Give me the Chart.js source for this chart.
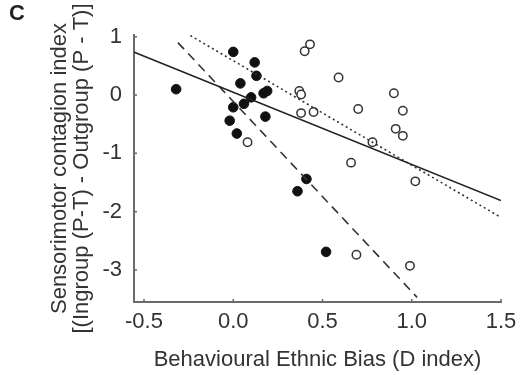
<!DOCTYPE html>
<html>
<head>
<meta charset="utf-8">
<script src="https://cdn.jsdelivr.net/npm/chart.js@4"></script>
<style>
    body { margin: 0; background: #fff; }
    #wrap { position: relative; width: 524px; height: 375px; }
    #panel { position: absolute; left: 9px; top: 0px; font: bold 22px "Liberation Sans", Arial, sans-serif; color: #222; }
</style>
</head>
<body>
<div id="wrap">
    <canvas id="chart-bias" width="524" height="375"></canvas>
    <div id="panel">C</div>
</div>
<script>
// Ingroup-biased participants (filled dots)
var filledX = [-0.32, 0.00, 0.12, 0.13, 0.04, 0.17, 0.19, 0.10, 0.06, 0.00, 0.18, -0.02, 0.02, 0.41, 0.36, 0.52];
var filledY = [0.10, 0.74, 0.56, 0.33, 0.20, 0.03, 0.07, -0.04, -0.15, -0.21, -0.37, -0.44, -0.66, -1.44, -1.65, -2.69];

// Other participants (open circles)
var openX = [0.40, 0.43, 0.59, 0.37, 0.38, 0.38, 0.45, 0.90, 0.95, 0.70, 0.91, 0.95, 0.78, 0.66, 1.02, 0.69, 0.99, 0.08];
var openY = [0.75, 0.87, 0.30, 0.07, 0.01, -0.31, -0.29, 0.03, -0.27, -0.24, -0.58, -0.70, -0.81, -1.16, -1.48, -2.74, -2.93, -0.81];

// Regression lines (end points)
var solidX = [-0.56, 1.50];
var solidY = [0.74, -1.81];
var dottedX = [-0.24, 1.50];
var dottedY = [1.02, -2.10];
var dashedX = [-0.31, 1.03];
var dashedY = [0.90, -3.47];

// Axis ticks
var xTicks = [-0.5, 0.0, 0.5, 1.0, 1.5];
var yTicks = [-3, -2, -1, 0, 1];

function toPoints(xs, ys) {
    return xs.map((x, i) => ({ x: x, y: ys[i] }));
}

var textColor = '#333';
var axisColor = '#6b6b6b';
var fontFamily = '"Liberation Sans", Arial, sans-serif';

// Small inward tick marks
var innerTicks = {
    id: 'innerTicks',
    afterDraw: function (chart) {
        var ctx = chart.ctx;
        var area = chart.chartArea;
        var xs = chart.scales.x;
        var ys = chart.scales.y;
        ctx.save();
        ctx.strokeStyle = axisColor;
        ctx.lineWidth = 1.5;
        ctx.beginPath();
        xTicks.forEach(function (v) {
            var px = xs.getPixelForValue(v);
            ctx.moveTo(px, area.bottom);
            ctx.lineTo(px, area.bottom - 3);
        });
        yTicks.forEach(function (v) {
            var py = ys.getPixelForValue(v);
            ctx.moveTo(area.left, py);
            ctx.lineTo(area.left + 3, py);
        });
        ctx.stroke();
        ctx.restore();
    }
};

var scatterData = {
    datasets: [
        {
            label: 'Solid fit',
            data: toPoints(solidX, solidY),
            showLine: true,
            borderColor: '#222',
            borderWidth: 1.6,
            pointRadius: 0,
        },
        {
            label: 'Dotted fit',
            data: toPoints(dottedX, dottedY),
            showLine: true,
            borderColor: '#333',
            borderWidth: 1.6,
            borderDash: [2, 3],
            pointRadius: 0,
        },
        {
            label: 'Dashed fit',
            data: toPoints(dashedX, dashedY),
            showLine: true,
            borderColor: '#333',
            borderWidth: 1.6,
            borderDash: [9, 6],
            pointRadius: 0,
        },
        {
            label: 'Filled',
            data: toPoints(filledX, filledY),
            pointRadius: 4.8,
            pointBackgroundColor: '#111',
            pointBorderColor: '#111',
            pointBorderWidth: 1,
        },
        {
            label: 'Open',
            data: toPoints(openX, openY),
            pointRadius: 4.2,
            pointBackgroundColor: '#fff',
            pointBorderColor: '#333',
            pointBorderWidth: 1.5,
        }
    ]
};

var scatterOptions = {
    responsive: false,
    animation: false,
    layout: { padding: { top: 35, right: 23, left: 0, bottom: 0 } },
    plugins: {
        legend: { display: false },
        tooltip: { enabled: false },
    },
    scales: {
        x: {
            type: 'linear',
            min: -0.556,
            max: 1.5,
            afterBuildTicks: function (s) { s.ticks = xTicks.map(v => ({ value: v })); },
            afterFit: function (s) { s.height = 73; },
            grid: { display: false, drawTicks: false },
            border: { display: true, color: axisColor, width: 2 },
            ticks: {
                padding: 7,
                color: textColor,
                font: { family: fontFamily, size: 22 },
                callback: v => v.toFixed(1),
            },
            title: {
                display: true,
                text: 'Behavioural Ethnic Bias (D index)',
                color: textColor,
                font: { family: fontFamily, size: 22 },
                padding: { top: 0, bottom: 2 },
            }
        },
        y: {
            type: 'linear',
            min: -3.55,
            max: 1.03,
            afterBuildTicks: function (s) { s.ticks = yTicks.map(v => ({ value: v })); },
            afterFit: function (s) { s.width = 134; },
            grid: { display: false, drawTicks: false },
            border: { display: true, color: axisColor, width: 2 },
            ticks: {
                padding: 12,
                color: textColor,
                font: { family: fontFamily, size: 22 },
                callback: v => String(v),
            },
            title: {
                display: true,
                text: ['Sensorimotor contagion index', '[(Ingroup (P-T) - Outgroup (P - T)]'],
                color: textColor,
                font: { family: fontFamily, size: 22, lineHeight: 1.0 },
                padding: { top: 49, bottom: 0 },
            }
        }
    }
};

new Chart(document.getElementById('chart-bias'), {
    type: 'scatter',
    data: scatterData,
    options: scatterOptions,
    plugins: [innerTicks],
});
</script>
</body>
</html>
